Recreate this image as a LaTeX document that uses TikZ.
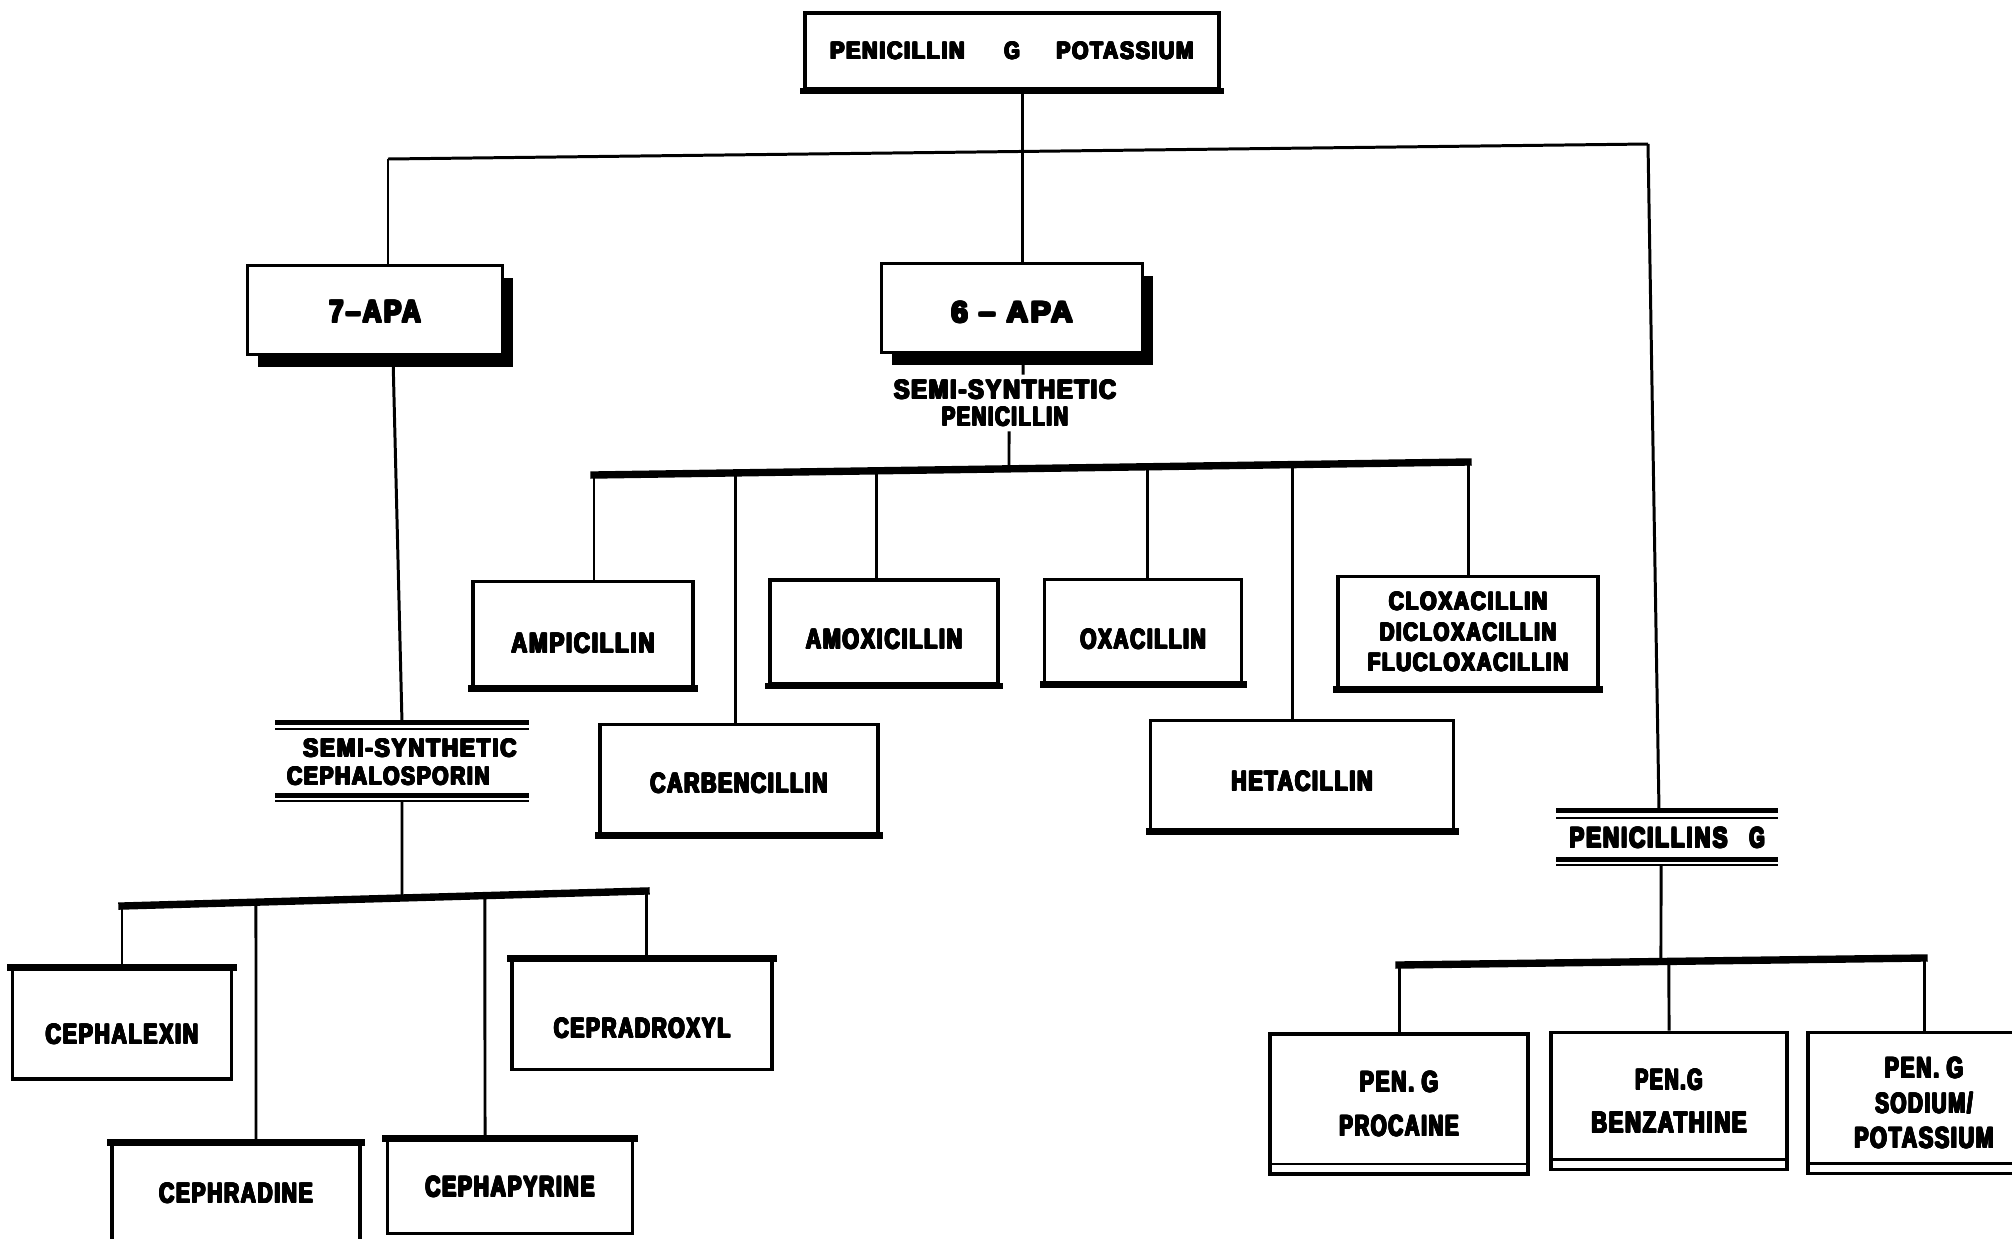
\documentclass[tikz,border=0pt]{standalone}
\usepackage{fontspec}
\usepackage{graphicx}
\usetikzlibrary{shadows}
\newfontfamily\labfont{Liberation Sans}[UprightFont={* Bold}, LetterSpace=8]
\newlength\pxu
\setlength\pxu{0.02cm}
\newsavebox\lblbox
% heavy lettering: the word is printed several times with tiny offsets
\newcommand\inked[1]{\sbox\lblbox{\labfont #1}%
  \foreach \dx in {0,0.25,0.5,0.75}{\foreach \dy in {0,0.25,0.5}{%
    \rlap{\kern\dx pt\raisebox{\dy pt}{\usebox\lblbox}}}}%
  \kern0.75pt\phantom{\usebox\lblbox}}
% one line of lettering, scaled to a given width and cap height (in px units)
\newcommand\lbl[3]{\resizebox{#1\pxu}{#2\pxu}{\inked{#3}}}

\tikzset{
  box/.style={draw, fill=white, line width=2.1pt, inner sep=0pt, rectangle},
  sz/.style 2 args={minimum width=#1*0.02cm, minimum height=#2*0.02cm},
  shadowed/.style={drop shadow={shadow xshift=0.2cm, shadow yshift=-0.24cm, fill=black, opacity=1}},
  heading/.style={inner sep=0pt, align=center},
  conn/.style={line width=1.7pt},
  bus/.style={line width=4.2pt, line cap=rect},
  heavy/.style={line width=#1, line cap=rect},
  heavy/.default=3.6pt,
  thinrule/.style={line width=1.1pt},
  thickrule/.style={line width=2.8pt},
}

\begin{document}
\begin{tikzpicture}[x=0.02cm, y=-0.02cm]
\useasboundingbox (0,0) rectangle (2012,1238);
\clip (0,0) rectangle (2012,1238);

% ---------- parent compound and the two nuclei ----------
\node[box, sz={414}{76}] (top) at (1012,51)
  {\lbl{136}{18}{PENICILLIN}\hspace{38\pxu}\lbl{17}{18}{G}\hspace{35\pxu}\lbl{139}{18}{POTASSIUM}};
\node[box, shadowed, sz={255}{89}, text height=0.54cm, text depth=0pt] (sevenapa) at (375,310)
  {\lbl{94}{23}{7–APA}};
\node[box, shadowed, sz={261}{89}, text height=0.60cm, text depth=0pt] (sixapa) at (1012,308)
  {\lbl{124}{22}{6 – APA}};

% ---------- semi-synthetic penicillins ----------
\node[heading, sz={230}{56}, font=\fontsize{10pt}{15.36pt}\selectfont] (spen) at (1005,403)
  {\lbl{224}{20}{SEMI-SYNTHETIC}\\\lbl{128}{20}{PENICILLIN}};

\node[box, sz={220}{105}, text height=0.78cm, text depth=0pt] (amp) at (583,634) {\lbl{145}{21}{AMPICILLIN}};
\node[box, sz={228}{104}, text height=0.70cm, text depth=0pt] (amox) at (884,632) {\lbl{158}{21}{AMOXICILLIN}};
\node[box, sz={197}{103}, text height=0.74cm, text depth=0pt] (oxa) at (1143,631) {\lbl{127}{21}{OXACILLIN}};
\node[box, sz={260}{111}, align=center, font=\fontsize{10pt}{17.36pt}\selectfont] (clox) at (1468,632)
  {\lbl{160}{19}{CLOXACILLIN}\\\lbl{178}{19}{DICLOXACILLIN}\\\lbl{202}{19}{FLUCLOXACILLIN}};
\node[box, sz={278}{109}, text height=0.58cm, text depth=0pt] (carb) at (739,779) {\lbl{179}{21}{CARBENCILLIN}};
\node[box, sz={303}{109}, text height=0.66cm, text depth=0pt] (heta) at (1302,775) {\lbl{143}{21}{HETACILLIN}};

\foreach \n in {amp,amox,oxa,clox,carb,heta}
  \draw[heavy] (\n.south west) -- (\n.south east);
\draw[heavy=3.4pt] (top.south west) -- (top.south east);

% ---------- penicillins G ----------
\node[heading, sz={221}{54}] (penG) at (1667,838)
  {\lbl{160}{21}{PENICILLINS}\hspace{20\pxu}\lbl{17}{21}{G}};
\draw[thickrule] (penG.north west) -- (penG.north east);
\draw[thinrule] ([yshift=-0.14cm]penG.north west) -- ([yshift=-0.14cm]penG.north east);
\draw[thickrule] ([yshift=0.12cm]penG.south west) -- ([yshift=0.12cm]penG.south east);
\draw[thinrule] (penG.south west) -- (penG.south east);

\node[box, sz={258}{140}, align=center, font=\fontsize{10pt}{25.04pt}\selectfont] (proc) at (1399,1104)
  {\lbl{80}{22}{PEN. G}\\\lbl{121}{22}{PROCAINE}};
\node[box, sz={236}{137}, align=center, font=\fontsize{10pt}{24.47pt}\selectfont] (benz) at (1669,1101)
  {\lbl{69}{22}{PEN.G}\\\lbl{157}{22}{BENZATHINE}};
\node[box, sz={232}{141}, align=center, font=\fontsize{10pt}{19.92pt}\selectfont] (sodk) at (1924,1103)
  {\lbl{80}{22}{PEN. G}\\\lbl{99}{22}{SODIUM/}\\\lbl{141}{22}{POTASSIUM}};
\foreach \n in {proc,benz,sodk}
  \draw[line width=1.4pt] ([yshift=0.24cm]\n.south west) -- ([yshift=0.24cm]\n.south east);

% ---------- semi-synthetic cephalosporins ----------
\node[inner sep=0pt, align=left, sz={253}{78}, font=\fontsize{10pt}{15.93pt}\selectfont] (sceph) at (402,762)
  {\hspace*{16\pxu}\lbl{215}{19}{SEMI-SYNTHETIC}\\\lbl{204}{19}{CEPHALOSPORIN}};
\draw[thickrule] (sceph.north west) -- (sceph.north east);
\draw[thinrule] ([yshift=-0.12cm]sceph.north west) -- ([yshift=-0.12cm]sceph.north east);
\draw[thickrule] ([yshift=0.12cm]sceph.south west) -- ([yshift=0.12cm]sceph.south east);
\draw[thinrule] (sceph.south west) -- (sceph.south east);

\node[box, sz={219}{110}, text height=0.82cm, text depth=0pt] (ceplx) at (122,1024) {\lbl{154}{21}{CEPHALEXIN}};
\node[box, sz={260}{109}, text height=0.94cm, text depth=0pt] (cepdx) at (642,1015) {\lbl{178}{21}{CEPRADROXYL}};
\node[box, sz={248}{115}, text height=0.42cm, text depth=0.36cm] (cepra) at (236,1202) {\lbl{155}{21}{CEPHRADINE}};
\node[box, sz={245}{93}] (cephp) at (510,1187) {\lbl{171}{21}{CEPHAPYRINE}};
\foreach \n in {ceplx,cepdx,cepra,cephp}
  \draw[heavy=3.8pt] (\n.north west) -- (\n.north east);

% ---------- connectors ----------
% main trunk and the first branching line
\draw[conn] ([xshift=0.2cm]top.south) -- ([xshift=0.2cm]sixapa.north);
\coordinate (b1l) at (388,159);
\coordinate (b1r) at (1648,144);
\draw[conn] (b1l) -- (b1r);
\draw[conn] (b1l) -- (b1l |- sevenapa.north);
\draw[conn] (b1r) -- ([xshift=-0.16cm]penG.north);

% 6-APA branch: label, bar and the six derivatives
\draw[conn] ([xshift=0.22cm]sixapa.south) -- ([xshift=0.36cm]spen.north);
\coordinate (b2l) at (594,475);
\coordinate (b2r) at (1468,462);
\draw[bus] (b2l) -- (b2r);
\coordinate (p-t) at ([xshift=0.08cm]spen.south);
\coordinate (p-b) at ([xshift=0.08cm]spen.north);
\draw[conn] (p-t) -- (intersection of p-t--p-b and b2l--b2r);
\coordinate (t-amox) at (876,470.8);
\coordinate (t-oxa)  at (1147,466.8);
\coordinate (t-carb) at (735,472.9);
\coordinate (t-heta) at (1292,464.6);
\draw[conn] (b2l) -- (b2l |- amp.north);
\draw[conn] (b2r) -- (clox.north);
\foreach \n in {amox,oxa,carb,heta}
  \draw[conn] (t-\n) -- (t-\n |- \n.north);

% 7-APA branch
\draw[conn] ([xshift=0.36cm]sevenapa.south) -- (sceph.north);
\coordinate (b4l) at (122,906);
\coordinate (b4r) at (646,891);
\draw[bus] (b4l) -- (b4r);
\draw[conn] (sceph.south) -- (intersection of sceph.south--sceph.north and b4l--b4r);
\draw[conn] (b4l) -- (ceplx.north);
\draw[conn] (b4r) -- (b4r |- cepdx.north);
\coordinate (cepra-t) at ([xshift=0.4cm]cepra.north);
\coordinate (cepra-c) at ([xshift=0.4cm]cepra.center);
\draw[conn] (cepra-t) -- (intersection of cepra-t--cepra-c and b4l--b4r);
\coordinate (cephp-t) at ([xshift=-0.5cm]cephp.north);
\coordinate (cephp-c) at ([xshift=-0.5cm]cephp.center);
\draw[conn] (cephp-t) -- (intersection of cephp-t--cephp-c and b4l--b4r);

% penicillin G salts
\coordinate (b3l) at (1399,965);
\coordinate (b3r) at (1924,958);
\draw[bus] (b3l) -- (b3r);
\coordinate (g-t) at ([xshift=-0.12cm]penG.south);
\coordinate (g-b) at ([xshift=-0.12cm]penG.north);
\draw[conn] (g-t) -- (intersection of g-t--g-b and b3l--b3r);
\draw[conn] (b3l) -- (proc.north);
\draw[conn] (b3r) -- (sodk.north);
\draw[conn] (benz.north) -- (intersection of benz.north--benz.center and b3l--b3r);
\end{tikzpicture}
\end{document}
